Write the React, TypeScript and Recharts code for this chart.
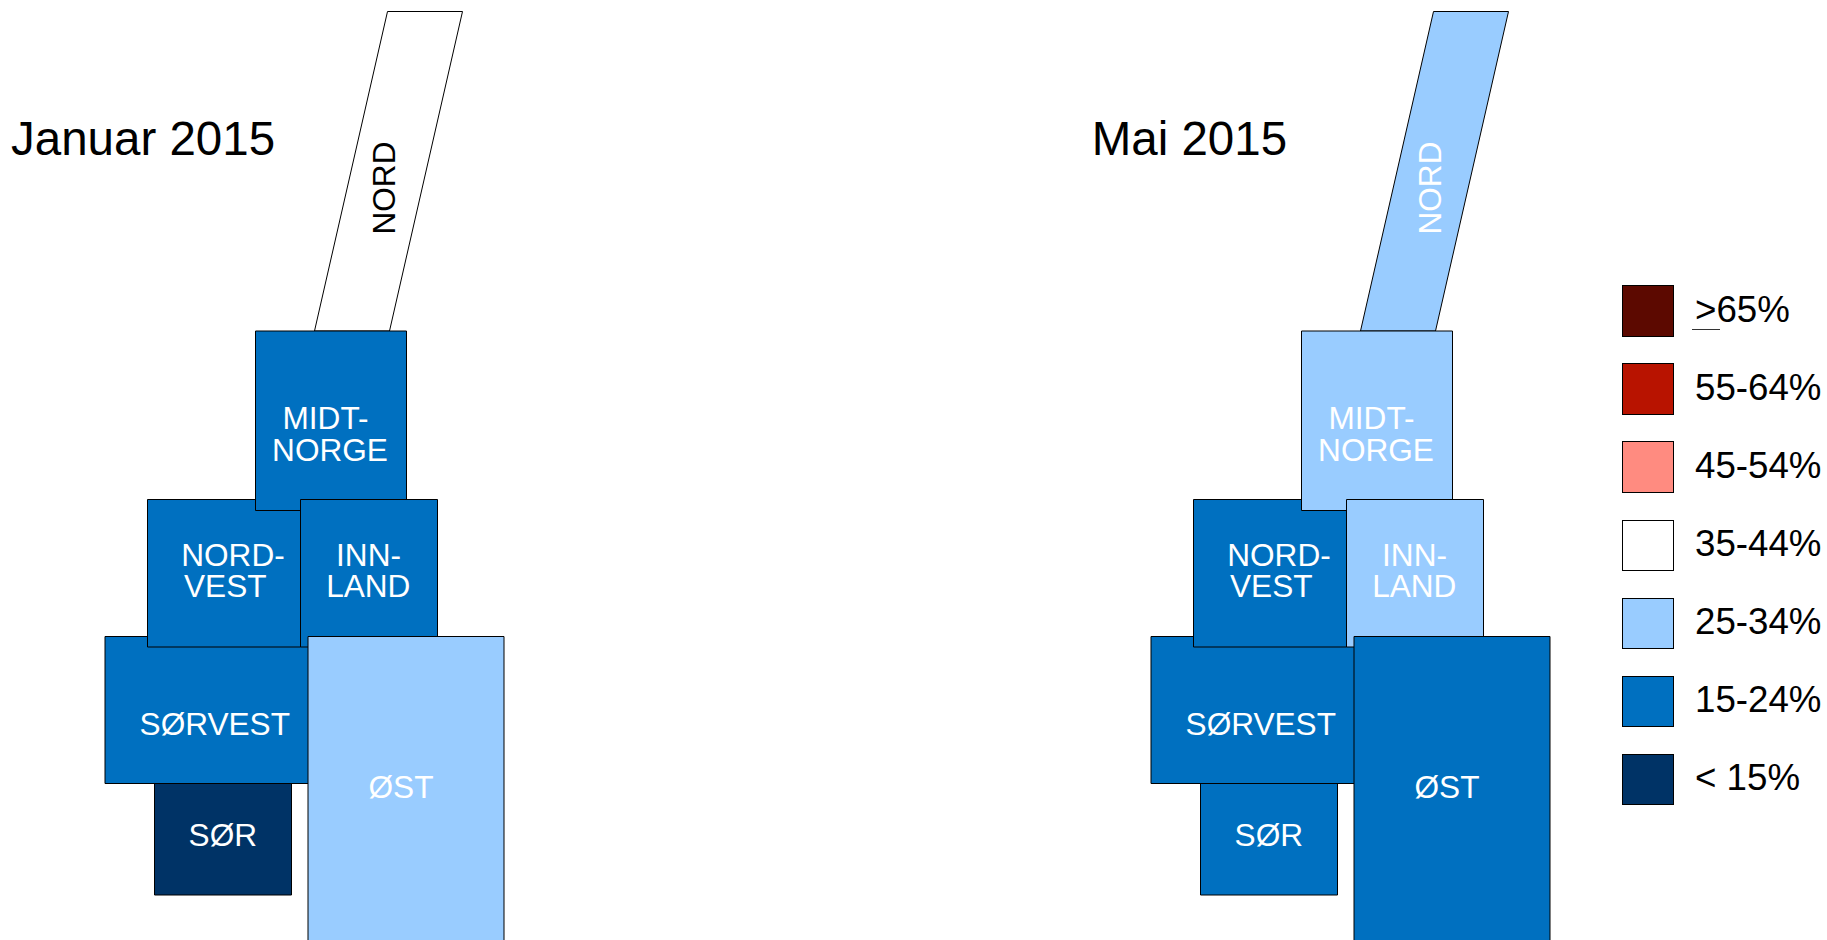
import { ScatterChart, Scatter, XAxis, YAxis, ReferenceArea, Legend } from 'recharts';

const FONT = '"Liberation Sans", Arial, sans-serif';
const HEIGHT = 940;

// Share bands, top to bottom in the legend
const bandLabels = ['>65%', '55-64%', '45-54%', '35-44%', '25-34%', '15-24%', '< 15%'];
const bandColors = ['#5c0900', '#b81300', '#ff8b80', '#ffffff', '#99ccff', '#0070c0', '#003366'];

// Tile map of the regions, in map units, in drawing order
const regionNames = ['NORD', 'SØR', 'SØRVEST', 'NORDVEST', 'MIDT-NORGE', 'INNLAND', 'ØST'];
const regionLeft = [314.5, 154.5, 105, 147.5, 255.5, 300.5, 308];
const regionRight = [462.5, 291.5, 323, 300.5, 406.5, 437.5, 504];
const regionTop = [11.5, 783.5, 636.5, 499.5, 331, 499.5, 636.5];
const regionBottom = [331, 895, 783.5, 647, 510.5, 647, 950];
const regionLean = [73, 0, 0, 0, 0, 0, 0];

// Band per region, same order as regionNames
const januaryBands = ['35-44%', '< 15%', '15-24%', '15-24%', '15-24%', '15-24%', '25-34%'];
const mayBands = ['25-34%', '15-24%', '15-24%', '15-24%', '25-34%', '25-34%', '15-24%'];

// Region name lines
const labelText = ['NORD', 'MIDT-', 'NORGE', 'NORD-', 'VEST', 'INN-', 'LAND', 'SØRVEST', 'ØST', 'SØR'];
const labelRegion = ['NORD', 'MIDT-NORGE', 'MIDT-NORGE', 'NORDVEST', 'NORDVEST', 'INNLAND', 'INNLAND', 'SØRVEST', 'ØST', 'SØR'];
const labelX = [395, 325.5, 330, 233, 225.3, 368.5, 368.3, 214.8, 401, 222.8];
const labelY = [188, 429, 461, 566, 597.3, 566, 597.3, 735, 797.7, 846];
const labelAngle = [-90, 0, 0, 0, 0, 0, 0, 0, 0, 0];

const colorOf = (band: string) => bandColors[bandLabels.indexOf(band)];

function tileShape(fill: string, lean: number, left: number, right: number) {
  return (props: any) => {
    const { x, y, width, height } = props;
    const shift = (lean / (right - left)) * width;
    const points = [
      [x + shift, y],
      [x + width, y],
      [x + width - shift, y + height],
      [x, y + height],
    ];
    return <polygon points={points.map((p) => p.join(',')).join(' ')} fill={fill} stroke="#000" strokeWidth={1} />;
  };
}

function LabelMark(props: any) {
  const { cx, cy, payload } = props;
  return (
    <text
      x={cx}
      y={cy}
      fill={payload.color}
      fontFamily={FONT}
      fontSize={31.6}
      textAnchor="middle"
      transform={payload.angle ? `rotate(${payload.angle} ${cx} ${cy})` : undefined}
    >
      {payload.text}
    </text>
  );
}

function BandLegend() {
  return (
    <div style={{ fontFamily: FONT, fontSize: 36.7, color: '#000' }}>
      {bandLabels.map((label, i) => (
        <div key={label} style={{ position: 'relative', height: 78.1, whiteSpace: 'nowrap' }}>
          <div
            style={{
              position: 'absolute',
              left: 0,
              top: 0,
              width: 52.5,
              height: 51.5,
              boxSizing: 'border-box',
              background: bandColors[i],
              border: '1px solid #000',
            }}
          />
          <span style={{ position: 'absolute', left: 73.5, top: -1.5, lineHeight: '52px' }}>{label}</span>
          {label === '>65%' && (
            <div style={{ position: 'absolute', left: 70, top: 44, width: 28, height: 1, background: '#333' }} />
          )}
        </div>
      ))}
    </div>
  );
}

function MapPanel({
  width,
  title,
  titleX,
  bands,
  showLegend,
}: {
  width: number;
  title: string;
  titleX: number;
  bands: string[];
  showLegend?: boolean;
}) {
  const labels = labelText.map((text, i) => {
    const band = bands[regionNames.indexOf(labelRegion[i])];
    return {
      x: labelX[i],
      y: labelY[i],
      text,
      angle: labelAngle[i],
      color: band === '35-44%' ? '#000' : '#fff',
    };
  });

  return (
    <ScatterChart width={width} height={HEIGHT} margin={{ top: 0, right: 0, bottom: 0, left: 0 }}>
      <XAxis type="number" dataKey="x" domain={[0, width]} hide />
      <YAxis type="number" dataKey="y" domain={[0, HEIGHT]} reversed hide />
      {regionNames.map((name, i) => (
        <ReferenceArea
          key={name}
          x1={regionLeft[i]}
          x2={regionRight[i]}
          y1={regionTop[i]}
          y2={regionBottom[i]}
          ifOverflow="visible"
          shape={tileShape(colorOf(bands[i]), regionLean[i], regionLeft[i], regionRight[i])}
        />
      ))}
      <Scatter data={labels} shape={LabelMark} isAnimationActive={false} />
      <text x={titleX} y={155} fontFamily={FONT} fontSize={47.5} fill="#000">
        {title}
      </text>
      {showLegend && (
        <Legend
          layout="vertical"
          align="center"
          verticalAlign="middle"
          content={BandLegend}
          wrapperStyle={{ left: 576, top: 285.3, bottom: 'auto', width: 200 }}
        />
      )}
    </ScatterChart>
  );
}

export default function App() {
  return (
    <div style={{ position: 'absolute', left: 0, top: 0, width: 1827, height: HEIGHT, display: 'flex', overflow: 'hidden', background: '#fff' }}>
      <MapPanel width={1045.5} title="Januar 2015" titleX={11} bands={januaryBands} />
      <MapPanel width={781.5} title="Mai 2015" titleX={45.7} bands={mayBands} showLegend />
    </div>
  );
}
